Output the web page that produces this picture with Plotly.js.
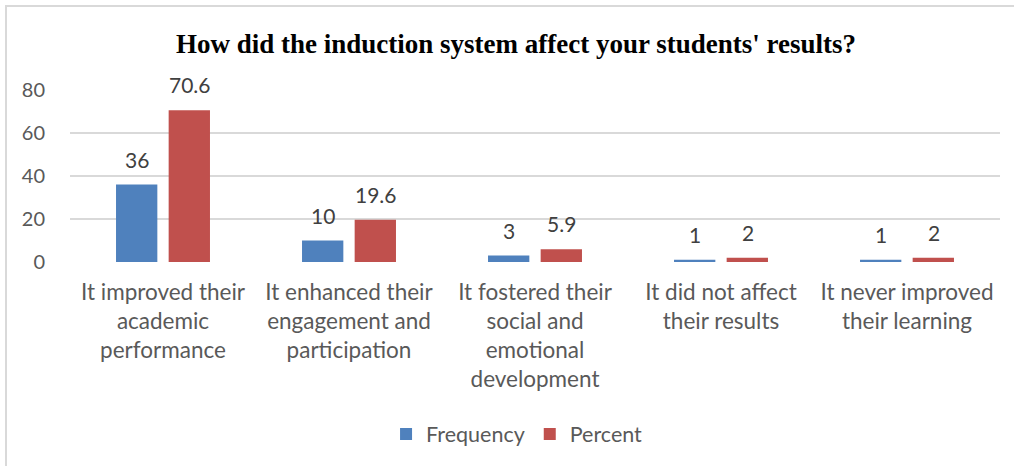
<!DOCTYPE html>
<html>
<head>
<meta charset="utf-8">
<script src="https://cdn.plot.ly/plotly-3.0.1.min.js"></script>
<style>
  html, body { margin: 0; padding: 0; background: #fff; }
  #wrap { position: relative; width: 1014px; height: 466px; overflow: hidden; }
  #chart { position: absolute; left: 0; top: 0; width: 1014px; height: 466px; }
  #frame { position: absolute; left: 5px; top: 5px; right: -10px; bottom: -10px;
           border-left: 2px solid #d9d9d9; border-top: 2px solid #d9d9d9; pointer-events: none; }
</style>
</head>
<body>
<div id="wrap">
  <div id="chart"></div>
  <div id="frame"></div>
</div>
<script>
// Survey answers and counts
const categories = [
  "It improved their<br>academic<br>performance",
  "It enhanced their<br>engagement and<br>participation",
  "It fostered their<br>social and<br>emotional<br>development",
  "It did not affect<br>their results",
  "It never improved<br>their learning"
];
const frequency = [36, 10, 3, 1, 1];
const percent = [70.6, 19.6, 5.9, 2, 2];
const yTicks = [0, 20, 40, 60, 80];

const BLUE = "#4F81BD";
const RED = "#C0504D";
const LABEL_FONT = "Lato, 'Open Sans', sans-serif";

const traces = [
  { type: "bar", name: "Frequency", x: categories, y: frequency,
    marker: { color: BLUE }, hoverinfo: "x+y" },
  { type: "bar", name: "Percent", x: categories, y: percent,
    marker: { color: RED }, hoverinfo: "x+y" }
];

// value labels above each bar
const annotations = [];
[[frequency, -26.5], [percent, 26.5]].forEach(([vals, dx]) => {
  vals.forEach((v, i) => {
    annotations.push({
      x: categories[i], y: v, xref: "x", yref: "y",
      text: String(v), showarrow: false,
      xanchor: "center", yanchor: "bottom",
      xshift: dx, yshift: 11,
      font: { family: LABEL_FONT, size: 21, color: "#404040" }
    });
  });
});

const layout = {
  width: 1014, height: 466,
  margin: { l: 70, r: 14, t: 90, b: 204 },
  paper_bgcolor: "#ffffff", plot_bgcolor: "#ffffff",
  barmode: "group", bargap: 0.434, bargroupgap: 0.215,
  title: {
    text: "How did the induction system affect your students' results?",
    font: { family: "'Liberation Serif', 'Times New Roman', serif", size: 27, color: "#000", weight: "bold" },
    xref: "paper", x: 0.4796, xanchor: "center",
    yref: "container", y: 0.907, yanchor: "middle"
  },
  xaxis: {
    tickvals: categories, ticktext: categories,
    tickfont: { family: LABEL_FONT, size: 22.5, color: "#595959" },
    showgrid: false, zeroline: false, showline: false, ticks: "",
    ticklabelstandoff: 14,
    fixedrange: true
  },
  yaxis: {
    range: [0, 80], tickvals: yTicks, ticktext: yTicks.map(String),
    tickfont: { family: LABEL_FONT, size: 20, color: "#595959" },
    showgrid: true, gridcolor: "#d9d9d9", gridwidth: 1.5,
    zeroline: false, showline: false, ticks: "",
    ticklabelstandoff: 24, fixedrange: true
  },
  legend: {
    orientation: "h", x: 0.4807, xanchor: "center", y: -1.0, yanchor: "middle",
    font: { family: LABEL_FONT, size: 21.5, color: "#595959" },
    traceorder: "normal"
  },
  annotations: annotations,
  showlegend: true
};

Plotly.newPlot("chart", traces, layout, { displayModeBar: false, staticPlot: true });
</script>
</body>
</html>
